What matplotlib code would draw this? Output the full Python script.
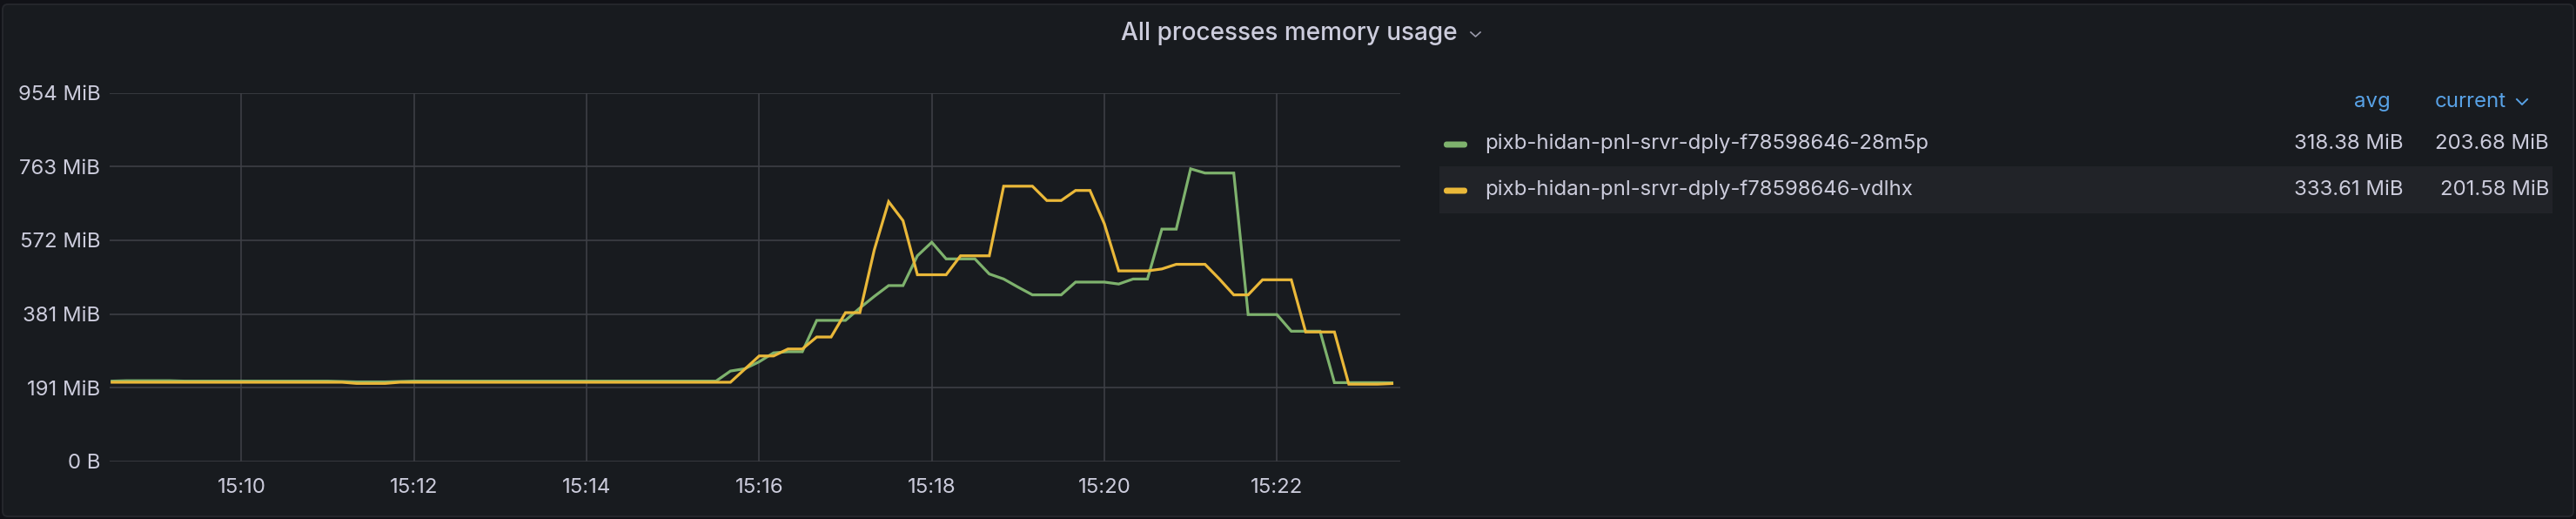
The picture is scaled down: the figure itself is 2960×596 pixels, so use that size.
import matplotlib
matplotlib.use("Agg")
import matplotlib.pyplot as plt
import matplotlib.dates as mdates
from matplotlib.patches import FancyBboxPatch, Rectangle
from matplotlib.lines import Line2D
from matplotlib.transforms import IdentityTransform
import pandas as pd

# ---- data (MiB, one sample every 10 s) ----
times = pd.date_range("2024-01-01 15:08:30", "2024-01-01 15:23:20", freq="10s")

green_mib = [208, 209, 209, 209, 209, 208, 208, 208, 208, 208, 208, 208, 208, 208,
             208, 208, 207, 206, 206, 206, 207, 208, 208, 208, 208, 208, 208, 208,
             208, 208, 208, 208, 208, 208, 208, 208, 208, 208, 208, 208, 208, 208,
             208, 234, 240, 258, 281, 284, 284, 365, 365, 365, 397, 427, 455, 455,
             532, 567, 524, 524, 524, 485, 472, 451, 431, 431, 431, 464, 464, 464,
             459, 472, 472, 601, 601, 757, 746, 746, 746, 380, 380, 380, 337, 337,
             337, 204, 204, 204, 204, 203.7]

yellow_mib = [205, 205, 205, 205, 205, 205, 205, 205, 205, 205, 205, 205, 205, 205,
              205, 205, 205, 202, 202, 202, 205, 205, 205, 205, 205, 205, 205, 205,
              205, 205, 205, 205, 205, 205, 205, 205, 205, 205, 205, 205, 205, 205,
              205, 205, 239, 273, 273, 291, 291, 322, 322, 385, 385, 547, 672, 623,
              483, 483, 483, 532, 532, 532, 712, 712, 712, 675, 675, 701, 701, 615,
              493, 493, 493, 498, 510, 510, 510, 472, 431, 431, 470, 470, 470, 335,
              335, 335, 200, 200, 200, 201.6]

series_names = ["pixb-hidan-pnl-srvr-dply-f78598646-28m5p",
                "pixb-hidan-pnl-srvr-dply-f78598646-vdlhx"]
series_colors = ["#7eb26d", "#eab839"]
avg_labels = ["318.38 MiB", "333.61 MiB"]
current_labels = ["203.68 MiB", "201.58 MiB"]

y_ticks = [k * 200e6 / 2**20 for k in range(6)]
y_tick_labels = ["0 B", "191 MiB", "381 MiB", "572 MiB", "763 MiB", "954 MiB"]
x_ticks = pd.date_range("2024-01-01 15:10", "2024-01-01 15:22", freq="2min")

# ---- layout ----
W, H = 2960, 596
BG = "#181b1f"
TXT = "#ccccdc"
GRID = "#3e4046"
BLUE = "#58a2e6"
plt.rcParams['font.family'] = ['Inter', 'DejaVu Sans']


def px(v):
    return v * 0.72


def fx(x):
    return x / W


def fy(y):
    return 1 - y / H


fig = plt.figure(figsize=(W / 100, H / 100), dpi=100)
fig.patch.set_facecolor("#111217")

panel = FancyBboxPatch((3, 3), W - 6, H - 8, boxstyle="round,pad=0,rounding_size=6",
                       transform=IdentityTransform(), facecolor=BG,
                       edgecolor="#25272c", linewidth=1.4, zorder=-2)
fig.patches.append(panel)

# title
fig.text(fx(1481), fy(38), "All processes memory usage", color=TXT,
         fontsize=px(28), fontweight="medium", ha="center", va="center")
fig.add_artist(Line2D([1690, 1695.5, 1701], [H - 37, H - 42, H - 37],
                      transform=IdentityTransform(), color="#9a9aaa", lw=1.2))

# plot
left, right, top, bottom = 126.3, 1608.7, 106.5, 530
ax = fig.add_axes([fx(left), fy(bottom), (right - left) / W, (bottom - top) / H])
ax.set_zorder(2)
ax.set_facecolor(BG)
ax.plot(times, green_mib, color=series_colors[0], lw=px(3.2), solid_joinstyle="miter")
ax.plot(times, yellow_mib, color=series_colors[1], lw=px(3.2), solid_joinstyle="miter")

ax.set_xlim(pd.Timestamp("2024-01-01 15:08:28.5"), pd.Timestamp("2024-01-01 15:23:25.6"))
ax.set_ylim(0, 1e9 / 2**20)
ax.set_yticks(y_ticks)
ax.set_yticklabels(y_tick_labels)
ax.set_xticks(x_ticks)
ax.xaxis.set_major_formatter(mdates.DateFormatter("%H:%M"))
ax.grid(True, color=GRID, lw=px(1.6))
ax.set_axisbelow(True)
for s in ax.spines.values():
    s.set_visible(False)
ax.tick_params(axis="both", length=0, colors=TXT, labelsize=px(24))
ax.tick_params(axis="y", pad=px(11))
ax.tick_params(axis="x", pad=px(19))

# legend table
fig.text(fx(2747), fy(117), "avg", color=BLUE, fontsize=px(24), ha="right", va="center")
fig.text(fx(2880), fy(117), "current", color=BLUE, fontsize=px(24), ha="right", va="center")
fig.add_artist(Line2D([2892, 2898, 2904], [H - 114, H - 120, H - 114],
                      transform=IdentityTransform(), color=BLUE, lw=1.4))

row_y = [165, 218]
fig.patches.append(Rectangle((1654, H - 245), 2933 - 1654, 54, transform=IdentityTransform(),
                             facecolor="#212328", edgecolor="none", zorder=-1))
for i, name in enumerate(series_names):
    y = row_y[i]
    fig.patches.append(FancyBboxPatch((1659, H - y - 4.5), 27, 7,
                                      boxstyle="round,pad=0,rounding_size=3.5",
                                      transform=IdentityTransform(),
                                      facecolor=series_colors[i], edgecolor="none"))
    fig.text(fx(1706), fy(y), name, color=TXT, fontsize=px(24), ha="left", va="center")
    fig.text(fx(2762), fy(y), avg_labels[i], color=TXT, fontsize=px(24), ha="right", va="center")
    fig.text(fx(2929), fy(y), current_labels[i], color=TXT, fontsize=px(24), ha="right", va="center")

fig.savefig("out.png", dpi=100, facecolor=fig.get_facecolor())
